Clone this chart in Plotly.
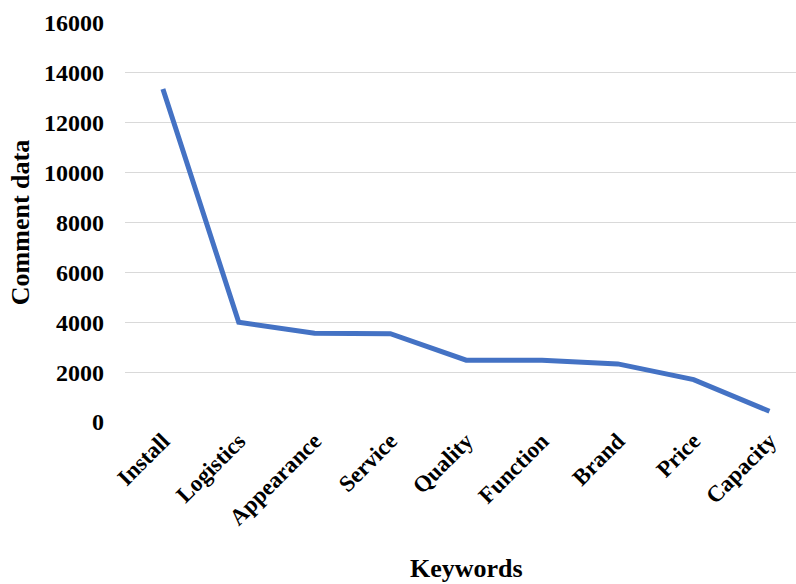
import plotly.graph_objects as go

keywords = ["Install", "Logistics", "Appearance", "Service", "Quality",
            "Function", "Brand", "Price", "Capacity"]
comments = [13350, 4000, 3560, 3540, 2480, 2480, 2330, 1700, 430]
y_ticks = [0, 2000, 4000, 6000, 8000, 10000, 12000, 14000, 16000]

FONT = "Liberation Serif"

fig = go.Figure(
    go.Scatter(
        x=keywords,
        y=comments,
        mode="lines",
        line=dict(color="#4472C4", width=5),
        hoverinfo="x+y",
    )
)

fig.update_layout(
    width=796,
    height=584,
    margin=dict(l=125, r=0, t=23, b=162),
    paper_bgcolor="white",
    plot_bgcolor="white",
    showlegend=False,
    font=dict(family=FONT, size=22, color="black"),
    xaxis=dict(
        type="category",
        range=[-0.5, 8.35],
        showgrid=False,
        showline=False,
        zeroline=False,
        ticks="",
        tickangle=-45,
        tickfont=dict(family=FONT, size=23, color="black", weight="bold"),
    ),
    yaxis=dict(
        range=[0, 16000],
        tickvals=y_ticks,
        ticktext=[str(v) for v in y_ticks],
        showgrid=True,
        gridcolor="#D9D9D9",
        gridwidth=1.3,
        zeroline=False,
        showline=False,
        ticks="",
        ticklabelstandoff=20,
        tickfont=dict(family=FONT, size=24, color="black", weight="bold"),
        title=dict(
            text="<b>Comment data</b>",
            font=dict(family=FONT, size=26, color="black"),
            standoff=6,
        ),
    ),
    annotations=[
        dict(
            text="<b>Keywords</b>",
            xref="x",
            x=4,
            yref="paper",
            y=0,
            yanchor="middle",
            yshift=-146,
            showarrow=False,
            font=dict(family=FONT, size=26, color="black"),
        )
    ],
)

fig.write_html("out.html")
